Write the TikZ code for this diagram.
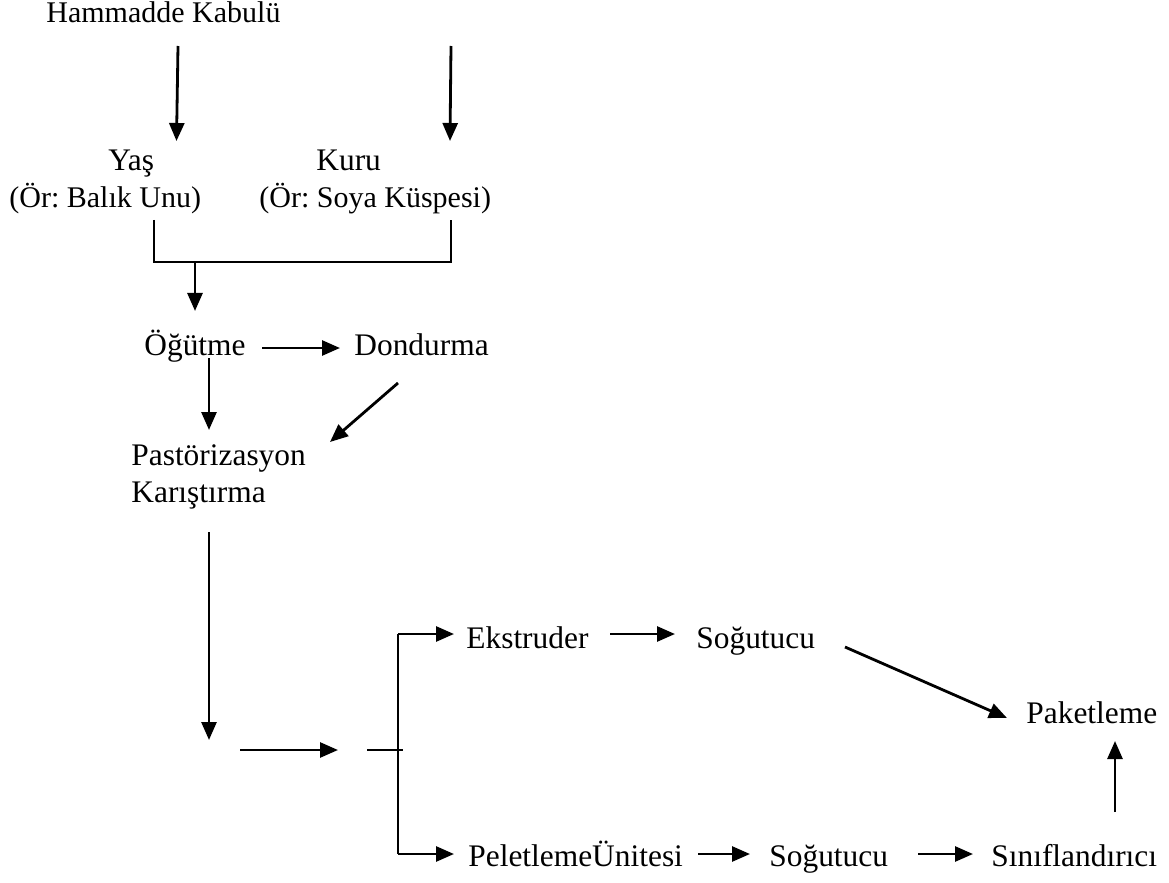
\documentclass[tikz,border=0pt]{standalone}
\usepackage{fontspec}
\setmainfont{Liberation Serif}
\usetikzlibrary{arrows.meta}
\frenchspacing

\begin{document}
\begin{tikzpicture}[
  x=0.5pt, y=-0.5pt,
  line width=1.4pt,
  akis/.style={-{Triangle[length=9pt,width=7.5pt]}},
  cizgi/.style={line width=1pt},
  ince/.style={line width=0.7pt},
  parantez/.style={font=\fontsize{15pt}{18pt}\selectfont},
  every node/.style={inner sep=0pt, anchor=base west, font=\fontsize{15.7pt}{18pt}\selectfont}
]
  \useasboundingbox (0,0) rectangle (1169,883);
  % ---- metinler ----
  \node[parantez]   (hammadde)  at (45,23)   {Hammadde Kabulü};
  \node             (yas)       at (107,170) {Yaş};
  \node[parantez]   (yasor)     at (8,208)   {(Ör: Balık Unu)};
  \node             (kuru)      at (315,170) {Kuru};
  \node[parantez]   (kuruor)    at (258,208) {(Ör: Soya Küspesi)};
  \node             (ogutme)    at (143,355) {Öğütme};
  \node             (dondurma)  at (353,355) {Dondurma};
  \node             (pastor)    at (130,465) {Pastörizasyon};
  \node             (karistir)  at (130,502) {Karıştırma};
  \node             (ekstruder) at (465,648) {Ekstruder};
  \node             (sogutA)    at (695,648) {Soğutucu};
  \node             (paket)     at (1025,723) {Paketleme};
  \node             (pelet)     at (467,866) {PeletlemeÜnitesi};
  \node             (sogutB)    at (768,866) {Soğutucu};
  \node             (sinif)     at (990,866) {Sınıflandırıcı};
  % ---- ok uçları ----
  \coordinate (yasU)   at (178,46);
  \coordinate (yasA)   at (176.5,141);
  \coordinate (kuruU)  at (451,46);
  \coordinate (kuruA)  at (450,141);
  \coordinate (kolL)   at (154,220);
  \coordinate (kolR)   at (451,220);
  \coordinate (kolY)   at (195,262);
  \coordinate (ogutA)  at (195,311);
  \coordinate (ogD1)   at (262,348);
  \coordinate (ogD2)   at (340,348);
  \coordinate (ogP1)   at (209,358);
  \coordinate (ogP2)   at (209,430);
  \coordinate (doP1)   at (398,383);
  \coordinate (doP2)   at (330,442);
  \coordinate (karU)   at (209,532);
  \coordinate (karA)   at (209,740);
  \coordinate (yatU)   at (240,750);
  \coordinate (yatA)   at (338,750);
  \coordinate (cubU)   at (367,750);
  \coordinate (cubA)   at (403,750);
  \coordinate (dalUst) at (398,634);
  \coordinate (dalAlt) at (398,854);
  \coordinate (ekA)    at (454,634);
  \coordinate (peA)    at (454,854);
  \coordinate (ekS1)   at (610,634);
  \coordinate (ekS2)   at (675,634);
  \coordinate (soP1)   at (845,647);
  \coordinate (soP2)   at (1007,718);
  \coordinate (peS1)   at (698,854);
  \coordinate (peS2)   at (750,854);
  \coordinate (soS1)   at (918,854);
  \coordinate (soS2)   at (973,854);
  \coordinate (siP1)   at (1115,812);
  \coordinate (siP2)   at (1115,741);
  % ---- oklar ----
  \draw[akis] (yasU) -- (yasA);
  \draw[akis] (kuruU) -- (kuruA);
  \draw[cizgi] (kolL) |- (kolR |- kolY) -- (kolR);
  \draw[akis] (kolY) -- (ogutA);
  \draw[akis] (ogD1) -- (ogD2);
  \draw[akis] (ogP1) -- (ogP2);
  \draw[akis] (doP1) -- (doP2);
  \draw[akis] (karU) -- (karA);
  \draw[akis] (yatU) -- (yatA);
  \draw[ince] (cubU) -- (cubA);
  \draw[cizgi] (dalUst) -- (dalAlt);
  \draw[akis] (dalUst) -- (ekA);
  \draw[akis] (dalAlt) -- (peA);
  \draw[akis] (ekS1) -- (ekS2);
  \draw[akis] (soP1) -- (soP2);
  \draw[akis] (peS1) -- (peS2);
  \draw[akis] (soS1) -- (soS2);
  \draw[akis] (siP1) -- (siP2);
\end{tikzpicture}
\end{document}
